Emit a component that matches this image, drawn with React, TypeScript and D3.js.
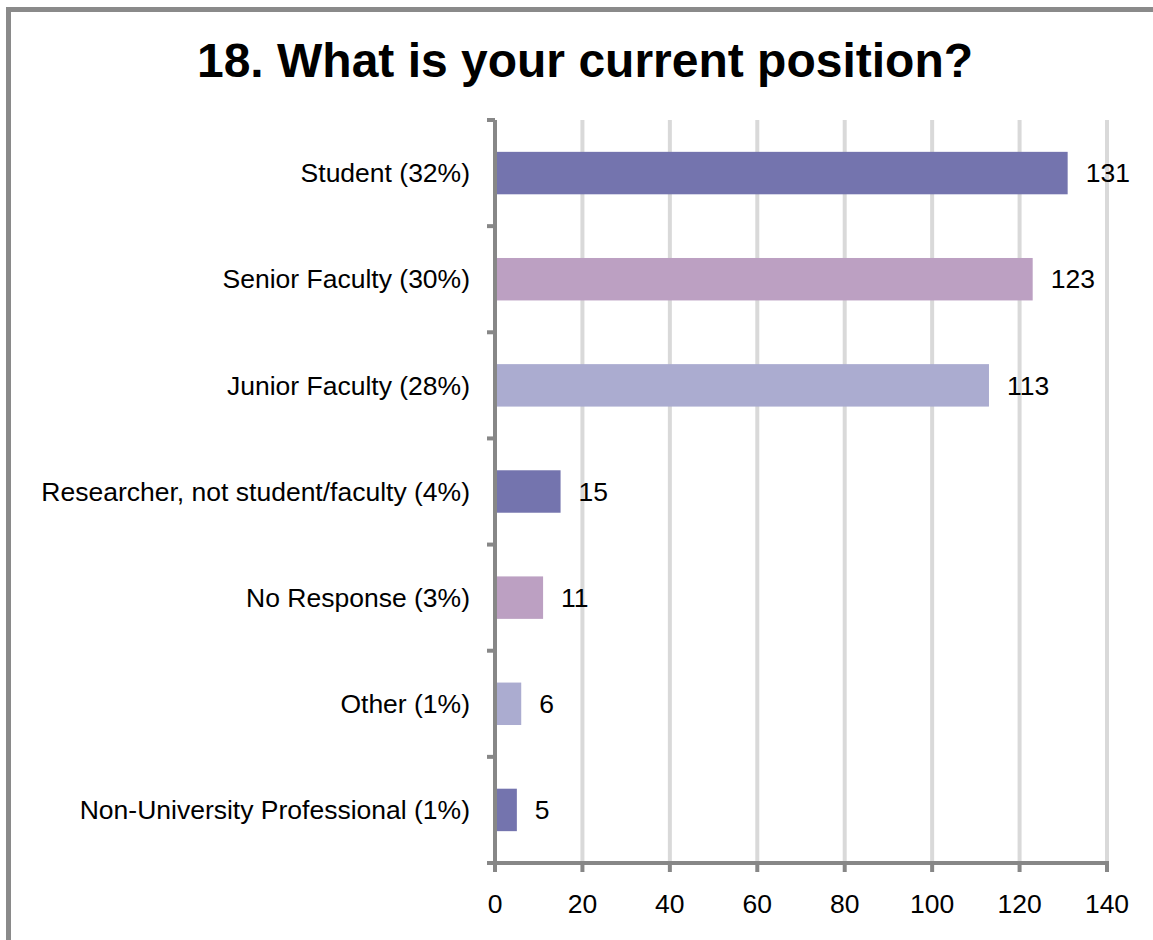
import React from "react";
import * as d3 from "d3";

const categories = [
  "Student (32%)",
  "Senior Faculty (30%)",
  "Junior Faculty (28%)",
  "Researcher, not student/faculty (4%)",
  "No Response (3%)",
  "Other (1%)",
  "Non-University Professional (1%)",
];
const values = [131, 123, 113, 15, 11, 6, 5];
const barColors = ["#7474ae", "#bca0c2", "#abacd0"];
const xTicks = [0, 20, 40, 60, 80, 100, 120, 140];
const title = "18. What is your current position?";

export default function App() {
  const W = 1153;
  const H = 940;
  const x0 = 495;
  const x1 = 1107;
  const yTop = 120;
  const yBot = 863;
  const x = d3.scaleLinear().domain([0, 140]).range([x0, x1]);
  const y = d3.scaleBand<string>().domain(categories).range([yTop, yBot]).paddingInner(0.6).paddingOuter(0.3);
  const bounds = d3.range(categories.length + 1).map((i) => yTop + (i * (yBot - yTop)) / categories.length);
  const font = "'Liberation Sans', Arial, sans-serif";
  const axisColor = "#878787";
  const fs = 26.5;
  return (
    <svg width={W} height={H} style={{ position: "absolute", left: 0, top: 0, background: "#fff" }} fontFamily={font}>
      <rect x={8.5} y={9.5} width={W + 20} height={H + 20} fill="#fff" stroke="#8a8a8a" strokeWidth={5} />
      <text x={585} y={77} textAnchor="middle" fontSize={48} fontWeight="bold" fill="#000">{title}</text>
      {xTicks.filter((t) => t > 0).map((t) => (
        <line key={"g" + t} x1={x(t)} x2={x(t)} y1={yTop} y2={yBot} stroke="#d9d9d9" strokeWidth={4} />
      ))}
      {categories.map((c, i) => (
        <rect key={"b" + i} x={x(0) + 2} y={y(c)} width={x(values[i]) - x(0) - 2} height={y.bandwidth()} fill={barColors[i % 3]} />
      ))}
      {categories.map((c, i) => (
        <text key={"v" + i} x={x(values[i]) + 18} y={(y(c) as number) + y.bandwidth() / 2} dy="0.35em" fontSize={fs} fill="#000">{values[i]}</text>
      ))}
      {categories.map((c, i) => (
        <text key={"c" + i} x={470} y={(y(c) as number) + y.bandwidth() / 2} dy="0.35em" textAnchor="end" fontSize={fs} fill="#000">{c}</text>
      ))}
      <line x1={x0} x2={x0} y1={yTop} y2={yBot + 2} stroke={axisColor} strokeWidth={4} />
      {bounds.map((b, i) => (
        <line key={"yt" + i} x1={487} x2={x0} y1={b} y2={b} stroke={axisColor} strokeWidth={4} />
      ))}
      <line x1={x0 - 8} x2={x1 + 2} y1={yBot} y2={yBot} stroke={axisColor} strokeWidth={4} />
      {xTicks.map((t) => (
        <line key={"xt" + t} x1={x(t)} x2={x(t)} y1={yBot} y2={yBot + 9} stroke={axisColor} strokeWidth={4} />
      ))}
      {xTicks.map((t) => (
        <text key={"xl" + t} x={x(t)} y={913} textAnchor="middle" fontSize={fs} fill="#000">{t}</text>
      ))}
    </svg>
  );
}
